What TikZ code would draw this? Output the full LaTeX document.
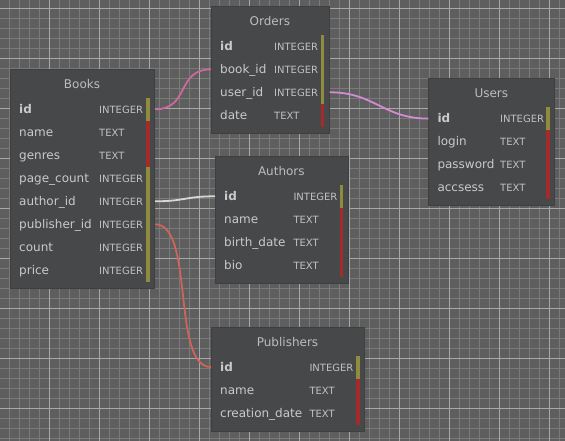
\documentclass[tikz,border=0pt]{standalone}
\usepackage{fontspec}
\setmainfont{DejaVu Sans}
\usepackage{tikz}
\usetikzlibrary{calc}

\definecolor{canvas}{HTML}{5E5E5E}
\definecolor{gridminor}{HTML}{7A7A7A}
\definecolor{gridmajor}{HTML}{A8A8A8}
\definecolor{tblfill}{HTML}{474849}
\definecolor{tbledge}{HTML}{3E3F40}
\definecolor{ttltext}{HTML}{BDBDBD}
\definecolor{fldtext}{HTML}{CACACA}
\definecolor{typtext}{HTML}{C2C2C2}
\definecolor{barint}{HTML}{8F8C40}
\definecolor{bartext}{HTML}{A52B2B}
\definecolor{lnkpink}{HTML}{CC6A9E}
\definecolor{lnkviolet}{HTML}{D48AD4}
\definecolor{lnkwhite}{HTML}{D8D8D2}
\definecolor{lnkred}{HTML}{CF6459}

\begin{document}
\begin{tikzpicture}[
  x=1pt, y=-1pt,
  tbl/.style={draw=tbledge, fill=tblfill, line width=1pt, anchor=north west,
    inner sep=0pt},
  ttl/.style={anchor=base, inner sep=0pt, text=ttltext,
    font=\fontsize{12}{14}\selectfont},
  fld/.style={anchor=west, inner sep=0pt, text height=11pt, text depth=3pt,
    text=fldtext, font=\fontsize{12}{14}\selectfont},
  typ/.style={fld, text=typtext, font=\fontsize{10}{12}\selectfont},
  link/.style={line width=1.8pt}
]
  \useasboundingbox (0,0) rectangle (565,441);
  % grid background
  \fill[canvas] (0,0) rectangle (565,441);
  \foreach \x in {9.3,19.3,...,565} \draw[gridminor, line width=1pt] (\x,0) -- (\x,441);
  \foreach \y in {8.3,18.3,...,441} \draw[gridminor, line width=1pt] (0,\y) -- (565,\y);
  \foreach \x in {49.3,99.3,...,565} \draw[gridmajor, line width=1pt] (\x,0) -- (\x,441);
  \foreach \y in {8.3,58.3,...,441} \draw[gridmajor, line width=1pt] (0,\y) -- (565,\y);

  % tables
  \foreach \tname/\ttitle/\lft/\tp/\bw/\bh/\tyx/\rows in {
    books/Books/10/69/144/219/89/{id/INTEGER/barint, name/TEXT/bartext,
      genres/TEXT/bartext, page\_count/INTEGER/barint, author\_id/INTEGER/barint,
      publisher\_id/INTEGER/barint, count/INTEGER/barint, price/INTEGER/barint},
    orders/Orders/211/6/117.7/127/63/{id/INTEGER/barint, book\_id/INTEGER/barint,
      user\_id/INTEGER/barint, date/TEXT/bartext},
    users/Users/428.3/78.3/126/127/71.7/{id/INTEGER/barint, login/TEXT/bartext,
      password/TEXT/bartext, accsess/TEXT/bartext},
    authors/Authors/215/156/132.7/127/78.3/{id/INTEGER/barint, name/TEXT/bartext,
      birth\_date/TEXT/bartext, bio/TEXT/bartext},
    publishers/Publishers/211/326.7/153/104/98.3/{id/INTEGER/barint,
      name/TEXT/bartext, creation\_date/TEXT/bartext}} {
    \node[tbl, minimum width=\bw, minimum height=\bh] (\tname) at (\lft,\tp) {};
    \node[ttl] (\tname-t) at (\lft+\bw/2, \tp+19.3) {\ttitle};
    \foreach \fname/\ftype/\bc [count=\k from 0] in \rows {
      \node[fld] (\tname-\k) at (\lft+9, \tp+40.3+23*\k)
        {\ifnum\k=0 \bfseries\fi\fname};
      \node[typ] (\tname-\k t) at (\lft+\tyx, \tp+40.3+23*\k) {\ftype};
      \fill[\bc] (\lft+\bw-8, \tp+29+23*\k) rectangle +(3.7,23);
    }
  }

  % relations
  \draw[link, lnkpink] (books.east |- books-0)
    .. controls +(35,0) and +(-35,0) .. (orders.west |- orders-1);
  \draw[link, lnkviolet] (orders.east |- orders-2)
    .. controls +(45,0) and +(-45,0) .. (users.west |- users-0);
  \draw[link, lnkwhite] (books.east |- books-4)
    .. controls +(30,0) and +(-30,0) .. (authors.west |- authors-0);
  \draw[link, lnkred] (books.east |- books-5)
    .. controls +(40,0) and +(-40,0) .. (publishers.west |- publishers-0);
\end{tikzpicture}
\end{document}
